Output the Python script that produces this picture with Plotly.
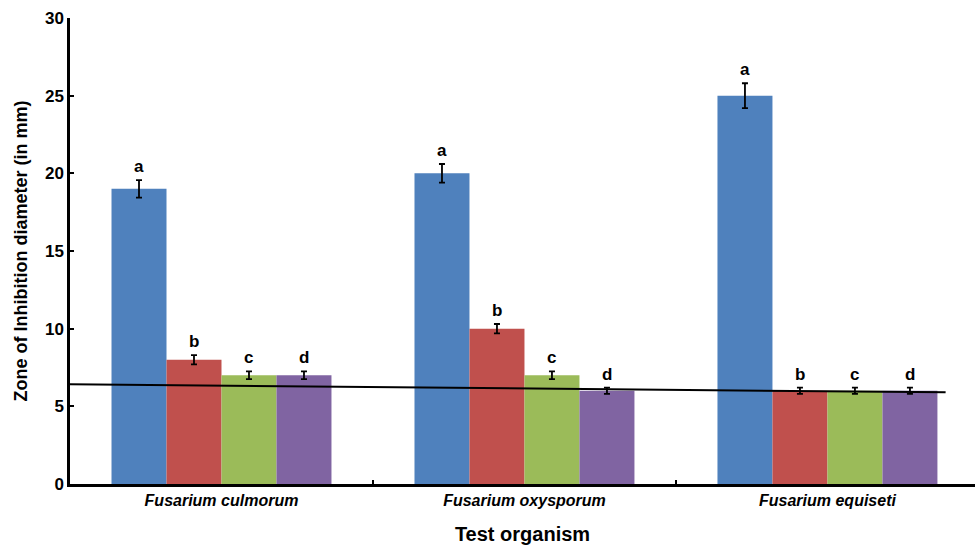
import plotly.graph_objects as go

# Zone of inhibition (mm) per test organism for four treatments
organisms = ["Fusarium culmorum", "Fusarium oxysporum", "Fusarium equiseti"]
series_names = ["T1", "T2", "T3", "T4"]
values = [
    [19, 20, 25],
    [8, 10, 6],
    [7, 7, 6],
    [7, 6, 6],
]
errors = [
    [0.56, 0.6, 0.8],
    [0.3, 0.3, 0.2],
    [0.25, 0.25, 0.2],
    [0.25, 0.2, 0.2],
]
letters = ["a", "b", "c", "d"]
colors = ["#4F81BD", "#C0504D", "#9BBB59", "#8064A2"]

# Linear trend line (category-index x, value y)
trend_x = [-0.5, 2.39]
trend_y = [6.42, 5.90]

y_ticks = [0, 5, 10, 15, 20, 25, 30]

FONT = "Liberation Sans, Arial"
bargap = 0.274
n_series = len(series_names)
bar_w = (1 - bargap) / n_series

fig = go.Figure()
for j in range(n_series):
    fig.add_trace(go.Bar(
        x=organisms,
        y=values[j],
        name=series_names[j],
        marker=dict(color=colors[j], line=dict(width=0)),
        error_y=dict(type="data", array=errors[j], color="black",
                     thickness=1.8, width=3),
        showlegend=False,
    ))

annotations = []
for j in range(n_series):
    for i in range(len(organisms)):
        annotations.append(dict(
            x=i + (j - (n_series - 1) / 2) * bar_w,
            y=values[j][i] + errors[j][i],
            xref="x", yref="y",
            text=letters[j],
            showarrow=False,
            yanchor="bottom",
            yshift=2,
            font=dict(family=FONT, size=17, color="black", weight="bold"),
        ))

fig.add_shape(type="line", xref="x", yref="y",
              x0=trend_x[0], y0=trend_y[0], x1=trend_x[1], y1=trend_y[1],
              line=dict(color="black", width=2))

fig.update_layout(
    width=975, height=547,
    margin=dict(l=70, r=0, t=18, b=63),
    paper_bgcolor="white", plot_bgcolor="white",
    barmode="group", bargap=bargap, bargroupgap=0,
    annotations=annotations,
    font=dict(family=FONT, color="black"),
)
fig.update_xaxes(
    type="category",
    range=[-0.5, 2.487],
    showline=True, linecolor="black", linewidth=2.5,
    ticks="inside", tickson="boundaries", ticklen=4, tickcolor="black", tickwidth=2,
    tickfont=dict(family=FONT, size=16, color="black", weight="bold", style="italic"),
    title=dict(text="Test organism",
               font=dict(family=FONT, size=20, color="black", weight="bold"),
               standoff=20),
    showgrid=False, zeroline=False,
)
fig.update_yaxes(
    range=[0, 30], tickvals=y_ticks,
    showline=True, linecolor="black", linewidth=2.5,
    ticks="inside", ticklen=4, tickcolor="black", tickwidth=2,
    tickfont=dict(family=FONT, size=17, color="black", weight="bold"),
    title=dict(text="Zone of Inhibition diameter (in mm)",
               font=dict(family=FONT, size=18, color="black", weight="bold"),
               standoff=13),
    showgrid=False, zeroline=False,
)

fig.write_html("out.html")
